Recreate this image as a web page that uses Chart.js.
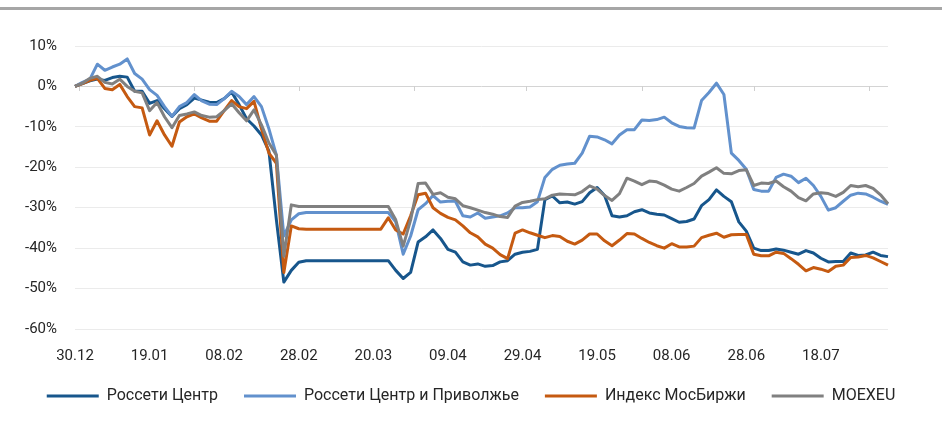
<!DOCTYPE html>
<html>
<head>
<meta charset="utf-8">
<script src="https://cdn.jsdelivr.net/npm/chart.js@4.4.0/dist/chart.umd.min.js"></script>
<style>
  body { margin: 0; background: #fff; }
  .wrap { position: relative; width: 942px; height: 430px; }
  .topline { position: absolute; left: 0; right: 0; top: 7px; height: 3px; background: #a6a6a6; }
  canvas { position: absolute; left: 0; top: 0; }
</style>
</head>
<body>
<div class="wrap">
  <div class="topline"></div>
  <canvas id="chart" width="942" height="430"></canvas>
</div>
<script>
// dates: every 2nd calendar day from 30.12.2021
const startDate = new Date(2021, 11, 30);
const dates = [];
for (let i = 0; i < 110; i++) {
  const d = new Date(startDate);
  d.setDate(d.getDate() + i * 2);
  dates.push(String(d.getDate()).padStart(2, '0') + '.' + String(d.getMonth() + 1).padStart(2, '0'));
}

const seriesNames = ['Россети Центр', 'Россети Центр и Приволжье', 'Индекс МосБиржи', 'MOEXEU'];

// % change since 30.12
const rossetiCentr = [
  0, 0.7, 1.4, 1.8, 1.5, 2.2, 2.5, 2.3, -1.2, -1.2,
  -4.2, -3.5, -5.5, -7.4, -5.5, -4.5, -2.9, -3.4, -3.9, -4,
  -3, -1.4, -4.5, -8, -9.8, -12, -16, -33, -48.4, -45.5,
  -43.5, -43.1, -43.1, -43.1, -43.1, -43.1, -43.1, -43.1, -43.1, -43.1,
  -43.1, -43.1, -43.1, -45.5, -47.5, -46, -38.5, -37.2, -35.5, -37.6,
  -40.3, -41, -43.4, -44.2, -43.9, -44.5, -44.3, -43.4, -43.1, -41.5,
  -41, -40.8, -40.3, -28, -27.1, -28.8, -28.6, -29.1, -28.5, -26.3,
  -25, -27, -32, -32.3, -32, -31, -30.5, -31.3, -31.6, -31.8,
  -32.7, -33.6, -33.4, -32.8, -29.5, -28, -25.6, -27.2, -28.5, -33.5,
  -35.8, -40, -40.6, -40.6, -40.2, -40.5, -41, -41.5, -40.6, -41.2,
  -42.5, -43.4, -43.3, -43.3, -41.2, -41.8, -41.7, -41, -41.8, -42.1
];
const rossetiCP = [
  0, 1, 1.8, 5.5, 4, 4.8, 5.5, 6.8, 3.2, 1.8,
  -0.8, -2.2, -5, -7.4, -5, -4, -2, -3.6, -4.4, -4.5,
  -3, -1.2, -2.5, -4.5, -2.5, -5, -10.5, -17, -37, -33,
  -31.5, -31.2, -31.2, -31.2, -31.2, -31.2, -31.2, -31.2, -31.2, -31.2,
  -31.2, -31.2, -31.2, -33.5, -41.5, -37, -30.5, -29, -27, -28.6,
  -28.4, -28.4, -32, -32.3, -31.3, -32.6, -32.3, -32, -31.3, -30,
  -30, -29.8, -28.5, -22.5, -20.5, -19.5, -19.2, -19, -16.5, -12.3,
  -12.5, -13.2, -14.2, -12, -10.7, -10.7, -8.3, -8.4, -8.2, -7.6,
  -9, -9.9, -10.2, -10.3, -3.5, -1.5, 0.8, -2, -16.5, -18.3,
  -20.5, -25.5, -25.9, -25.9, -22.5, -21.7, -22.2, -23.8, -22.7, -24.5,
  -27.2, -30.6, -30, -28.4, -26.9, -26.4, -26.6, -27.4, -28.4, -29.2
];
const moexIndex = [
  0, 0.7, 1.5, 2, -0.5, -0.8, 0.5, -2.5, -5, -5.3,
  -12, -8.5, -12, -14.8, -8.8, -7.5, -6.8, -7.8, -8.6, -8.6,
  -6, -3.5, -5, -5.5, -3.7, -10.5, -16.5, -19, -46, -34.5,
  -35.2, -35.3, -35.3, -35.3, -35.3, -35.3, -35.3, -35.3, -35.3, -35.3,
  -35.3, -35.3, -32.5, -35.5, -36.5, -32, -26.8, -26.4, -30, -31.4,
  -32.4, -33, -34.5, -36.2, -37.2, -39, -40, -41.6, -42.6, -36.3,
  -35.5, -36.2, -36.8, -37.4, -36.9, -37.1, -38.3, -39, -38, -36.5,
  -36.5, -38.2, -39.4, -38, -36.4, -36.5, -37.6, -38.6, -39.4, -40,
  -38.9, -39.7, -39.7, -39.5, -37.4, -36.8, -36.3, -37.3, -36.7, -36.6,
  -36.6, -41.5, -41.9, -41.9, -41, -41.3, -42.6, -44, -45.6, -44.8,
  -45.2, -45.8, -44.5, -44.2, -42.3, -42.2, -41.8, -42.4, -43.3, -44.2
];
const moexeu = [
  0, 0.8, 2, 2.5, 1, 0.6, 1.8, 0, -1.2, -1.6,
  -6, -4, -7.5, -10.2, -7.2, -6.8, -6.3, -7.2, -7.6, -7.5,
  -6, -4.3, -6.5, -8.5, -5.8, -9.5, -14, -17, -42, -29.3,
  -29.7, -29.7, -29.7, -29.7, -29.7, -29.7, -29.7, -29.7, -29.7, -29.7,
  -29.7, -29.7, -29.7, -33, -39.5, -33, -24, -23.9, -26.7, -26.3,
  -27.4, -27.8, -29.5, -30, -30.6, -31.2, -31.6, -32.2, -32.4, -29.6,
  -28.7, -28.4, -28, -27.8, -26.9, -26.6, -26.7, -26.8, -26, -24.6,
  -25.4, -27, -28.2, -26.5, -22.7, -23.4, -24.3, -23.4, -23.6, -24.4,
  -25.4, -25.9, -25, -24, -22.2, -21.2, -20.1, -21.5, -21.6, -20.8,
  -20.6, -24.5, -23.9, -24, -23.4, -24.8, -25.9, -27.5, -28.3, -26.6,
  -26.3, -26.5, -27.2, -26.2, -24.5, -24.8, -24.5, -25.2, -26.8, -29
];

// small marks on the 0% line at month ends (days from 30.12)
const monthEndDays = [1, 32, 60, 91, 121, 152, 182, 213];

const colors = ['#17568c', '#6291cd', '#c55a11', '#808080'];
const font = { family: 'Roboto, "DejaVu Sans", sans-serif', size: 15 };

const zeroTicks = {
  id: 'zeroTicks',
  beforeDatasetsDraw(chart) {
    const { ctx, scales: { x, y } } = chart;
    const y0 = Math.round(y.getPixelForValue(0));
    ctx.save();
    ctx.strokeStyle = '#cfcfcf';
    ctx.lineWidth = 1;
    monthEndDays.forEach(d => {
      const px = Math.round(x.getPixelForValue(d / 2)) + 0.5;
      ctx.beginPath();
      ctx.moveTo(px, y0);
      ctx.lineTo(px, y0 + 5);
      ctx.stroke();
    });
    ctx.restore();
  }
};

const makeSet = (label, data, color, order) => ({
  label: label,
  data: data,
  borderColor: color,
  backgroundColor: color,
  borderWidth: 3,
  pointRadius: 0,
  tension: 0,
  borderJoinStyle: 'round',
  order: order
});

new Chart(document.getElementById('chart'), {
  type: 'line',
  data: {
    labels: dates,
    datasets: [
      makeSet(seriesNames[0], rossetiCentr, colors[0], 4),
      makeSet(seriesNames[1], rossetiCP, colors[1], 3),
      makeSet(seriesNames[2], moexIndex, colors[2], 2),
      makeSet(seriesNames[3], moexeu, colors[3], 1)
    ]
  },
  options: {
    responsive: false,
    animation: false,
    layout: { padding: { top: 46, right: 0, bottom: 16, left: 0 } },
    plugins: {
      tooltip: { enabled: false },
      legend: {
        position: 'bottom',
        labels: {
          usePointStyle: true,
          pointStyle: 'line',
          pointStyleWidth: 52,
          padding: 26,
          color: '#262626',
          font: { family: font.family, size: 16 },
          sort: (a, b) => a.datasetIndex - b.datasetIndex
        }
      }
    },
    scales: {
      x: {
        grid: { display: false, drawTicks: false },
        border: { display: false },
        ticks: {
          autoSkip: false,
          maxRotation: 0,
          padding: 18,
          color: '#262626',
          font: font,
          callback: function (v, i) { return i % 10 === 0 ? this.getLabelForValue(v) : ''; }
        },
        afterFit: s => { s.height = 33; }
      },
      y: {
        min: -60,
        max: 10,
        border: { display: false },
        grid: {
          drawTicks: false,
          color: c => (c.tick && c.tick.value === 0 ? '#d4d4d4' : '#ebebeb')
        },
        ticks: {
          stepSize: 10,
          padding: 18,
          color: '#262626',
          font: font,
          callback: v => v + '%'
        },
        afterFit: s => { s.width = 75; }
      },
      // empty right-hand strip, keeps the plot clear of the right edge
      yRight: {
        position: 'right',
        display: true,
        border: { display: false },
        grid: { display: false },
        ticks: { display: false },
        afterFit: s => { s.width = 54; }
      }
    }
  },
  plugins: [zeroTicks]
});
</script>
</body>
</html>
